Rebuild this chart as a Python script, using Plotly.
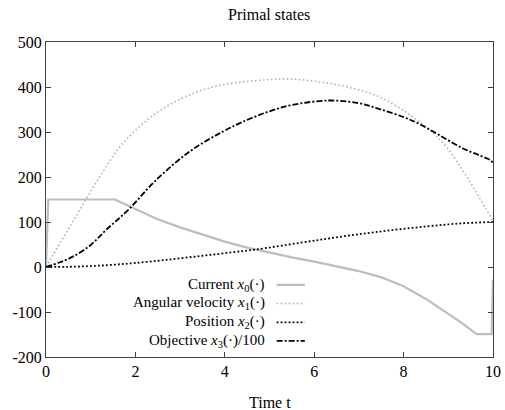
import plotly.graph_objects as go

# ---- data ----
t_current = [0, 0.05, 1.54, 1.75, 2.0, 2.5, 3.0, 3.5, 4.0, 4.5, 5.0, 5.5, 6.0, 6.5,
             7.0, 7.5, 8.0, 8.5, 9.0, 9.3, 9.63, 9.97, 10.0]
current = [0, 150, 150, 140, 129, 106, 88, 71.5, 56.5, 43, 31.5, 21.5, 12, 2,
           -9, -23, -43, -71, -103, -124, -149, -149, -28]

t_velocity = [0, 0.6, 1.16, 1.72, 2.47, 3.22, 3.96, 4.93, 5.4, 6.0, 6.71, 7.46, 8.2, 8.6, 8.95, 9.43, 10]
velocity = [0, 101, 194, 275, 342, 383, 405, 416, 418, 413, 401, 378, 334, 303, 268, 198, 102]

t_position = [0, 0.5, 1, 1.5, 2, 2.7, 3.5, 4.2, 4.7, 5.7, 6.5, 7.4, 8.5, 9.3, 10]
position = [0, 0.5, 2, 5, 9, 16, 25, 33, 39, 54, 66, 78, 90, 97, 100]

t_objective = [0, 0.3, 0.6, 1.0, 1.35, 1.84, 2.47, 3.22, 3.96, 4.5, 5.0, 5.5, 6.34, 7.0, 7.46,
               8.0, 8.35, 8.8, 9.32, 9.7, 9.93, 10]
objective = [0, 10, 23, 49, 83, 127, 194, 257, 301, 327, 346, 360, 370, 364, 351,
             333, 318, 293, 264, 248, 238, 231]

x_ticks = [0, 2, 4, 6, 8, 10]
y_ticks = [-200, -100, 0, 100, 200, 300, 400, 500]
y_tick_text = ["-200", "-100", "0", "100", "200", "300", "400", "500"]

legend_labels = ["Current <i>x</i><sub>0</sub>(·)",
                 "Angular velocity <i>x</i><sub>1</sub>(·)",
                 "Position <i>x</i><sub>2</sub>(·)",
                 "Objective <i>x</i><sub>3</sub>(·)/100"]

FONT = "Liberation Serif"
GRAY = "#bdbdbd"

styles = [
    dict(color=GRAY, width=2.2, dash="solid"),
    dict(color="#b3b3b3", width=1.6, dash="1.6px,2.4px"),
    dict(color="black", width=1.8, dash="1.8px,2.2px"),
    dict(color="black", width=1.8, dash="6px,2px,2px,2px"),
]

fig = go.Figure()
fig.add_trace(go.Scatter(x=t_current, y=current, mode="lines", line=styles[0], showlegend=False))
fig.add_trace(go.Scatter(x=t_velocity, y=velocity, mode="lines", line=dict(**styles[1], shape="spline", smoothing=1), showlegend=False))
fig.add_trace(go.Scatter(x=t_position, y=position, mode="lines", line=dict(**styles[2], shape="spline", smoothing=1), showlegend=False))
fig.add_trace(go.Scatter(x=t_objective, y=objective, mode="lines", line=dict(**styles[3], shape="spline", smoothing=1), showlegend=False))

# legend drawn by hand (text right-aligned, sample on the right, gnuplot-style)
row_y = [0.229, 0.170, 0.110, 0.051]
for lab, ry, st in zip(legend_labels, row_y, styles):
    fig.add_annotation(x=0.494, y=ry, xref="paper", yref="paper", text=lab, showarrow=False,
                       xanchor="right", yanchor="middle", font=dict(family=FONT, size=15, color="black"))
    fig.add_shape(type="line", xref="paper", yref="paper", x0=0.516, x1=0.579, y0=ry, y1=ry,
                  line=dict(color=st["color"], width=st["width"], dash=st["dash"]))

fig.add_annotation(x=0.5, y=-0.146, xref="paper", yref="paper", text="Time t", showarrow=False,
                   xanchor="center", yanchor="middle", font=dict(family=FONT, size=16, color="black"))

axis_common = dict(showline=True, linecolor="#404040", linewidth=1, mirror="ticks", ticks="inside",
                   ticklen=5, tickcolor="#404040", showgrid=False, zeroline=False, automargin=False,
                   tickfont=dict(family=FONT, size=16, color="black"))

fig.update_layout(
    template="none",
    width=505, height=410,
    margin=dict(l=46, r=12, t=42, b=53),
    paper_bgcolor="white", plot_bgcolor="white",
    title=dict(text="Primal states", x=0.533, xanchor="center", y=1 - 14 / 410, yanchor="middle",
               font=dict(family=FONT, size=16, color="black")),
    xaxis=dict(range=[0, 10], tickvals=x_ticks, **axis_common),
    yaxis=dict(range=[-200, 500], tickvals=y_ticks, ticktext=y_tick_text, **axis_common),
)

fig.write_html("out.html")
